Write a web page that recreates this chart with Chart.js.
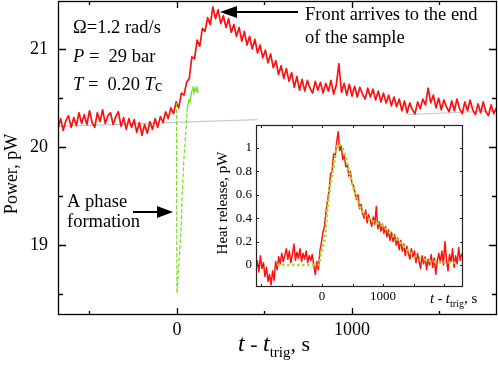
<!DOCTYPE html>
<html>
<head>
<meta charset="utf-8">
<script src="https://cdn.jsdelivr.net/npm/chart.js@4.4.0/dist/chart.umd.min.js"></script>
<style>
  html, body { margin: 0; padding: 0; background: #fff; }
  #wrap { position: relative; width: 498px; height: 369px; overflow: hidden; }
  #main { position: absolute; left: 0; top: 0; width: 498px; height: 369px; }
  #inset { position: absolute; left: 205px; top: 118px; width: 280px; height: 192px; }
</style>
</head>
<body>
<div id="wrap">
  <canvas id="main" width="498" height="369"></canvas>
  <canvas id="inset" width="280" height="192"></canvas>
</div>
<script>
var SERIF = '"Liberation Serif", "Times New Roman", serif';

// main trace: power (pW) sampled every 15 s from t = -680 s
var MAIN_T0 = -680, MAIN_DT = 15;
var mainPower = [
  20.19, 20.29, 20.17, 20.27, 20.32, 20.20, 20.30, 20.22, 20.35, 20.24,
  20.33, 20.23, 20.37, 20.25, 20.20, 20.35, 20.26, 20.38, 20.24, 20.32,
  20.35, 20.23, 20.31, 20.36, 20.21, 20.30, 20.18, 20.29, 20.20, 20.28,
  20.15, 20.25, 20.12, 20.23, 20.14, 20.26, 20.18, 20.29, 20.20, 20.31,
  20.25, 20.36, 20.29, 20.40, 20.34, 20.46, 20.40, 20.55, 20.53, 20.66,
  20.70, 20.92, 20.90, 21.09, 21.03, 21.21, 21.18, 21.32, 21.25, 21.43,
  21.31, 21.40, 21.26, 21.34, 21.22, 21.31, 21.17, 21.25, 21.13, 21.22,
  21.08, 21.18, 21.04, 21.13, 21.00, 21.10, 20.96, 21.04, 20.91, 20.99,
  20.86, 20.95, 20.81, 20.88, 20.74, 20.83, 20.70, 20.80, 20.67, 20.76,
  20.61, 20.72, 20.58, 20.69, 20.57, 20.68, 20.60, 20.55, 20.67, 20.58,
  20.66, 20.55, 20.65, 20.57, 20.68, 20.54, 20.63, 20.85, 20.56, 20.65,
  20.53, 20.64, 20.52, 20.62, 20.51, 20.61, 20.54, 20.49, 20.60, 20.51,
  20.59, 20.48, 20.57, 20.46, 20.55, 20.45, 20.53, 20.42, 20.51, 20.41,
  20.49, 20.37, 20.47, 20.35, 20.45, 20.38, 20.34, 20.46, 20.39, 20.49,
  20.43, 20.60, 20.45, 20.53, 20.40, 20.50, 20.38, 20.48, 20.41, 20.36,
  20.47, 20.37, 20.49, 20.39, 20.34, 20.46, 20.37, 20.48, 20.38, 20.33,
  20.44, 20.35, 20.46, 20.36, 20.32, 20.43, 20.34, 20.40
];

// A phase formation (green): dashed dip, then solid part
var dipT = [-3, -2, 0, 6, 23, 29, 40, 51, 57];
var dipP = [20.45, 19.50, 18.51, 18.67, 19.15, 19.49, 19.90, 20.17, 20.36];
var riseT = [57, 63, 69, 74, 80, 86, 91, 97, 103, 109, 114, 120];
var riseP = [20.36, 20.44, 20.48, 20.46, 20.53, 20.58, 20.62, 20.55, 20.60, 20.57, 20.62, 20.55];

// gray baseline (hidden between the two pieces)
var baseT = [-680, 460, null, 1320, 1829];
var baseP = [20.21, 20.28, null, 20.33, 20.37];

// inset: heat release (pW) sampled every 25 s from t = -1060 s
var INSET_T0 = -1060, INSET_DT = 25;
var insetHeat = [
  0.04, -0.06, 0.08, -0.03, 0.02, -0.10, -0.02, -0.14, -0.08, -0.17,
  -0.05, -0.13, 0.03, -0.04, 0.07, 0.01, 0.10, 0.03, 0.08, 0.14,
  0.05, 0.12, 0.02, 0.09, 0.18, 0.04, 0.11, 0.06, 0.14, 0.03,
  0.10, 0.05, 0.12, 0.02, 0.08, 0.04, 0.09, 0.00, -0.08, 0.03,
  -0.04, 0.12, 0.19, 0.28, 0.33, 0.45, 0.55, 0.63, 0.78, 0.80,
  0.95, 0.92, 1.05, 1.14, 0.98, 1.02, 0.90, 0.94, 0.84, 0.86,
  0.76, 0.80, 0.70, 0.68, 0.62, 0.56, 0.60, 0.48, 0.52, 0.44,
  0.40, 0.47, 0.36, 0.43, 0.38, 0.33, 0.41, 0.35, 0.50, 0.31,
  0.37, 0.29, 0.35, 0.27, 0.33, 0.24, 0.30, 0.21, 0.28, 0.20,
  0.26, 0.17, 0.23, 0.13, 0.21, 0.12, 0.18, 0.08, 0.16, 0.10,
  0.05, 0.14, 0.07, 0.12, 0.02, 0.10, 0.04, -0.03, 0.08, 0.01,
  0.07, -0.04, 0.05, 0.00, 0.09, -0.02, 0.06, -0.08, 0.04, 0.10,
  0.02, 0.12, 0.00, 0.20, 0.05, -0.05, 0.09, 0.03, 0.14, -0.02,
  0.08, 0.01, 0.15, 0.04, 0.10
];
var fitT = [-737, -66, 0, 49, 98, 180, 262, 344, 508, 672, 1000, 1279, 1492, 1820, 2180];
var fitV = [0.00, 0.00, 0.13, 0.24, 0.53, 0.81, 1.03, 0.99, 0.67, 0.45, 0.33, 0.19, 0.09, 0.03, 0.02];

var mainXTicks = [0, 1000];
var mainYTicks = [19, 20, 21];
var insetXTicks = [0, 1000];
var insetYTicks = [0, 0.2, 0.4, 0.6, 0.8, 1];

function series(t0, dt, vals) {
  return vals.map(function(v, i) { return { x: t0 + i * dt, y: v }; });
}
function pairs(ts, vs) {
  return ts.map(function(t, i) { return { x: t, y: vs[i] }; });
}

var RED = 'rgb(255,16,16)';
var GREEN = '#74e01e';

/* helpers for drawing */
function arrow(ctx, x1, y, x2, head, half) {
  var dir = x2 > x1 ? 1 : -1;
  ctx.beginPath();
  ctx.moveTo(x1, y);
  ctx.lineTo(x2 - dir * head * 0.6, y);
  ctx.lineWidth = 2;
  ctx.strokeStyle = '#000';
  ctx.stroke();
  ctx.beginPath();
  ctx.moveTo(x2, y);
  ctx.lineTo(x2 - dir * head, y - half);
  ctx.lineTo(x2 - dir * head, y + half);
  ctx.closePath();
  ctx.fillStyle = '#000';
  ctx.fill();
}
function runs(ctx, x, y, parts) {
  // parts: [text, font, dy]
  parts.forEach(function(p) {
    ctx.font = p[1];
    ctx.fillText(p[0], x, y + (p[2] || 0));
    x += ctx.measureText(p[0]).width;
  });
}

var mainDecor = {
  id: 'mainDecor',
  afterDraw: function(chart) {
    var ctx = chart.ctx, a = chart.chartArea;
    var xs = chart.scales.x, ys = chart.scales.y;
    ctx.save();
    ctx.strokeStyle = '#000';
    ctx.lineWidth = 1.3;
    ctx.strokeRect(a.left + 0.5, a.top + 0.5, a.right - a.left - 1, a.bottom - a.top - 1);
    [-500, 0, 500, 1000, 1500].forEach(function(v) {
      var px = Math.round(xs.getPixelForValue(v)) + 0.5;
      var len = (v % 1000 === 0) ? 7 : 4;
      ctx.beginPath();
      ctx.moveTo(px, a.bottom); ctx.lineTo(px, a.bottom - len);
      ctx.moveTo(px, a.top); ctx.lineTo(px, a.top + len);
      ctx.stroke();
    });
    [18.5, 19, 19.5, 20, 20.5, 21].forEach(function(v) {
      var py = Math.round(ys.getPixelForValue(v)) + 0.5;
      var len = (v % 1 === 0) ? 8 : 5;
      ctx.beginPath();
      ctx.moveTo(a.left, py); ctx.lineTo(a.left + len, py);
      ctx.moveTo(a.right, py); ctx.lineTo(a.right - len, py);
      ctx.stroke();
    });

    ctx.fillStyle = '#000';
    ctx.textBaseline = 'alphabetic';
    ctx.textAlign = 'left';
    var R = '18.5px ' + SERIF, I = 'italic 18.5px ' + SERIF;
    runs(ctx, 73, 33, [['\u03A9=1.2 rad/s', R]]);
    runs(ctx, 73, 62, [['P', I], [' =  29 bar', R]]);
    runs(ctx, 73, 90, [['T', I], [' =  0.20 ', R], ['T', I], ['c', '16px ' + SERIF, 1]]);
    runs(ctx, 305, 20, [['Front arrives to the end', R]]);
    runs(ctx, 305, 43, [['of the sample', R]]);
    runs(ctx, 67, 207, [['A phase', R]]);
    runs(ctx, 67, 227, [['formation', R]]);

    arrow(ctx, 298, 12, 220, 17, 6);
    arrow(ctx, 133, 212, 173, 16, 6);

    // axis titles
    ctx.fillStyle = '#000';
    runs(ctx, 238, 351, [['t', 'italic 24px ' + SERIF], [' - ', '22px ' + SERIF], ['t', 'italic 24px ' + SERIF],
                          ['trig', '15px ' + SERIF, 6], [', s', '22px ' + SERIF]]);
    ctx.translate(17, 174);
    ctx.rotate(-Math.PI / 2);
    ctx.textAlign = 'center';
    ctx.font = '18px ' + SERIF;
    ctx.fillText('Power, pW', 0, 0);
    ctx.restore();
  }
};

var insetDecor = {
  id: 'insetDecor',
  beforeDatasetsDraw: function(chart) {
    var ctx = chart.ctx, a = chart.chartArea;
    ctx.save();
    ctx.fillStyle = '#fff';
    ctx.fillRect(a.left, a.top, a.right - a.left, a.bottom - a.top);
    ctx.restore();
  },
  afterDraw: function(chart) {
    var ctx = chart.ctx, a = chart.chartArea;
    var xs = chart.scales.x, ys = chart.scales.y;
    ctx.save();
    ctx.strokeStyle = '#222';
    ctx.lineWidth = 1.2;
    ctx.strokeRect(a.left + 0.5, a.top + 0.5, a.right - a.left - 1, a.bottom - a.top - 1);
    ctx.lineWidth = 1;
    [-1000, -500, 0, 500, 1000, 1500, 2000].forEach(function(v) {
      var px = Math.round(xs.getPixelForValue(v)) + 0.5;
      ctx.beginPath();
      ctx.moveTo(px, a.bottom); ctx.lineTo(px, a.bottom - 3);
      ctx.moveTo(px, a.top); ctx.lineTo(px, a.top + 3);
      ctx.stroke();
    });
    insetYTicks.forEach(function(v) {
      var py = Math.round(ys.getPixelForValue(v)) + 0.5;
      ctx.beginPath();
      ctx.moveTo(a.left, py); ctx.lineTo(a.left + 3, py);
      ctx.moveTo(a.right, py); ctx.lineTo(a.right - 3, py);
      ctx.stroke();
    });
    ctx.fillStyle = '#000';
    ctx.textAlign = 'left';
    runs(ctx, 225, 185, [['t', 'italic 15px ' + SERIF], [' - ', '14px ' + SERIF], ['t', 'italic 15px ' + SERIF],
                          ['trig', '10px ' + SERIF, 4], [', s', '15px ' + SERIF]]);
    ctx.translate(22, 85);
    ctx.rotate(-Math.PI / 2);
    ctx.textAlign = 'center';
    ctx.font = '15px ' + SERIF;
    ctx.fillText('Heat release, pW', 0, 0);
    ctx.restore();
  }
};

function fixTicks(list) {
  return function(scale) { scale.ticks = list.map(function(v) { return { value: v }; }); };
}
function plain(v) { return String(v); }
function noPad(s) { s.paddingTop = 0; s.paddingBottom = 0; s.paddingLeft = 0; s.paddingRight = 0; }

new Chart(document.getElementById('main').getContext('2d'), {
  type: 'line',
  data: {
    datasets: [
      { data: pairs(dipT, dipP), borderColor: GREEN, borderWidth: 1.2, borderDash: [4, 2], pointRadius: 0, tension: 0 },
      { data: pairs(riseT, riseP), borderColor: GREEN, borderWidth: 1.3, pointRadius: 0, tension: 0 },
      { data: series(MAIN_T0, MAIN_DT, mainPower), borderColor: RED, borderWidth: 1.7, borderJoinStyle: 'round', pointRadius: 0, tension: 0 },
      { data: pairs(baseT, baseP), borderColor: '#c5cccc', borderWidth: 1.2, pointRadius: 0, tension: 0, spanGaps: false }
    ]
  },
  options: {
    responsive: false,
    animation: false,
    events: [],
    layout: { padding: { top: 1, right: 1, left: 0, bottom: 0 } },
    plugins: { legend: { display: false }, tooltip: { enabled: false } },
    scales: {
      x: {
        type: 'linear', min: -680, max: 1828.6,
        grid: { display: false, drawTicks: false }, border: { display: false },
        afterBuildTicks: fixTicks(mainXTicks),
        afterFit: function(s) { s.height = 54; noPad(s); },
        ticks: { font: { family: SERIF, size: 18 }, color: '#000', padding: 4, maxRotation: 0, callback: plain }
      },
      y: {
        min: 18.286, max: 21.49,
        grid: { display: false, drawTicks: false }, border: { display: false },
        afterBuildTicks: fixTicks(mainYTicks),
        afterFit: function(s) { s.width = 58; noPad(s); },
        ticks: { font: { family: SERIF, size: 18 }, color: '#000', padding: 10, callback: plain }
      }
    }
  },
  plugins: [mainDecor]
});

new Chart(document.getElementById('inset').getContext('2d'), {
  type: 'line',
  data: {
    datasets: [
      { data: pairs(fitT, fitV), borderColor: '#9de21c', borderWidth: 2.6, borderDash: [2.5, 2.5], pointRadius: 0, cubicInterpolationMode: 'monotone' },
      { data: series(INSET_T0, INSET_DT, insetHeat), borderColor: RED, borderWidth: 1.5, borderJoinStyle: 'round', pointRadius: 0, tension: 0 }
    ]
  },
  options: {
    responsive: false,
    animation: false,
    events: [],
    layout: { padding: { top: 7, right: 22, left: 0, bottom: 0 } },
    plugins: { legend: { display: false }, tooltip: { enabled: false } },
    scales: {
      x: {
        type: 'linear', min: -1082, max: 2311,
        grid: { display: false, drawTicks: false }, border: { display: false },
        afterBuildTicks: fixTicks(insetXTicks),
        afterFit: function(s) { s.height = 23; noPad(s); },
        ticks: { font: { family: SERIF, size: 13 }, color: '#000', padding: 2, maxRotation: 0, callback: plain }
      },
      y: {
        min: -0.188, max: 1.197,
        grid: { display: false, drawTicks: false }, border: { display: false },
        afterBuildTicks: fixTicks(insetYTicks),
        afterFit: function(s) { s.width = 51; noPad(s); },
        ticks: { font: { family: SERIF, size: 13 }, color: '#000', padding: 4, callback: plain }
      }
    }
  },
  plugins: [insetDecor]
});
</script>
</body>
</html>
